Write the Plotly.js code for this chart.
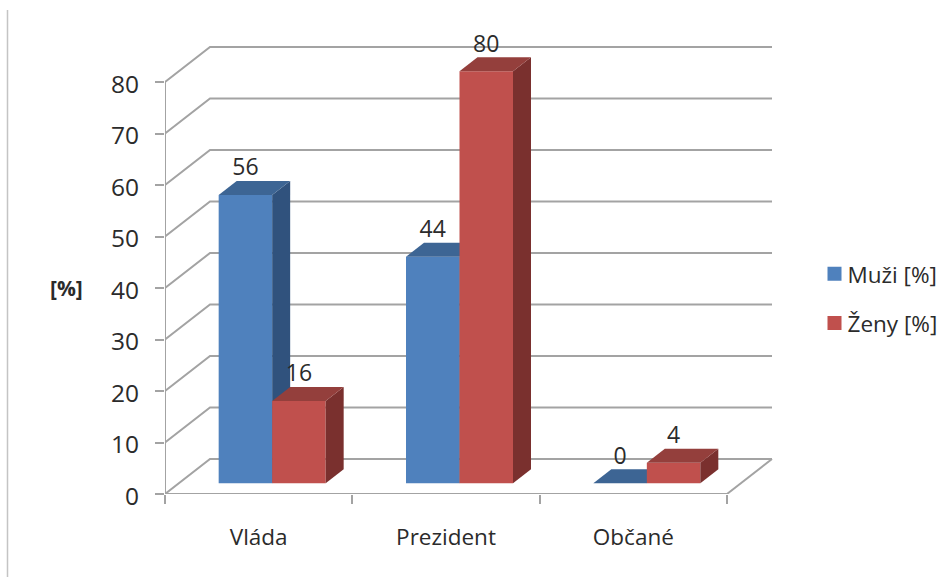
<!DOCTYPE html>
<html><head><meta charset="utf-8">
<script src="https://cdn.plot.ly/plotly-3.0.1.min.js"></script>
<style>html,body{margin:0;padding:0;background:#fff}</style></head>
<body><div id="chart" style="width:940px;height:577px"></div>
<script>
const categories = ['Vláda','Prezident','Občané'];
const muzi = [56,44,0];
const zeny = [16,80,4];
const yTicks = [0,10,20,30,40,50,60,70,80];
const FONT = '"Open Sans", sans-serif';
const TXT = '#2b2b2b', GRID = '#a3a3a3';
// depth parameters (data units)
const pxX = 187.33, pxY = 5.15;
const wallDX = 45/pxX, wallDY = 35/pxY;
const barDX = 18/pxX, barDY = 14/pxY, base = 2.07, barW = 0.2856, off1 = 0.2865, off2 = 0.5721;
const xs = [0,1,2];

function line(pts, color, w){
  return {type:'path', xref:'x', yref:'y', layer:'below',
    path:'M'+pts.map(p=>p.join(',')).join('L'), line:{color:color||GRID,width:w||2}};
}
const shapes = [];
yTicks.forEach(v=>{ shapes.push(line([[0,v],[wallDX,v+wallDY],[3+wallDX,v+wallDY]])); });
shapes.push(line([[3,0],[3+wallDX,wallDY]]));
shapes.push(line([[0,0],[0,80]]));
shapes.push(line([[0,0],[3,0]]));
shapes.push({type:'line',xref:'paper',yref:'paper',x0:-0.252,x1:-0.252,y0:-0.175,y1:1.021,layer:'below',line:{color:'#c4c4c4',width:1.5}});

function faces(vals, off, xa, ya, cTop, cSide){
  const out=[];
  vals.forEach((v,i)=>{
    const x0=xs[i]+off, x1=x0+barW, yb=base, yt=base+v;
    out.push({type:'scatter',mode:'none',fill:'toself',fillcolor:cSide,xaxis:xa,yaxis:ya,showlegend:false,hoverinfo:'skip',
      x:[x1,x1+barDX,x1+barDX,x1,x1],y:[yb,yb+barDY,yt+barDY,yt,yb]});
    out.push({type:'scatter',mode:'none',fill:'toself',fillcolor:cTop,xaxis:xa,yaxis:ya,showlegend:false,hoverinfo:'skip',
      x:[x0,x1,x1+barDX,x0+barDX,x0],y:[yt,yt,yt+barDY,yt+barDY,yt]});
  });
  return out;
}
const labelX=[], labelY=[], labelT=[];
[[muzi,off1],[zeny,off2]].forEach(([vals,off])=>vals.forEach((v,i)=>{
  labelX.push(xs[i]+off+barW/2); labelY.push(base+v+barDY+2.25); labelT.push(String(v));
}));
const data = [
  {type:'bar',name:'Muži [%]',x:xs,y:muzi,base:base,width:barW,offset:off1,marker:{color:'#4f81bd'},legendgroup:'a',xaxis:'x',yaxis:'y'},
  ...faces(muzi,off1,'x','y','#3d6594','#30527d'),
  {type:'bar',name:'Ženy [%]',x:xs,y:zeny,base:base,width:barW,offset:off2,marker:{color:'#c0504d'},legendgroup:'b',xaxis:'x2',yaxis:'y2'},
  ...faces(zeny,off2,'x2','y2','#943f3c','#7a302e'),
  {type:'scatter',mode:'text',x:labelX,y:labelY,text:labelT,textposition:'middle center',cliponaxis:false,
   textfont:{family:FONT,size:23,color:TXT},xaxis:'x2',yaxis:'y2',showlegend:false,hoverinfo:'skip'}
];
const xr=[0,(790-165)/pxX], yr=[0,(494-20)/pxY];
const layout = {
  width:940,height:577,paper_bgcolor:'#fff',plot_bgcolor:'rgba(0,0,0,0)',showlegend:true,
  margin:{l:165,r:150,t:20,b:83,autoexpand:false},
  font:{family:FONT,color:TXT},
  xaxis:{range:xr,showgrid:false,zeroline:false,showline:false,tickmode:'array',tickvals:[0.5,1.5,2.5],ticktext:categories,
    ticks:'outside',ticklen:0,ticklabelstandoff:23,tickfont:{family:FONT,size:22.5,color:TXT},
    minor:{tickmode:'array',tickvals:[0,1,2,3],ticks:'outside',ticklen:9,tickwidth:2,tickcolor:GRID,showgrid:false}},
  yaxis:{range:yr,showgrid:false,zeroline:false,showline:false,tickmode:'array',tickvals:yTicks,
    ticks:'outside',ticklen:9,tickwidth:2,tickcolor:GRID,ticklabelstandoff:11,ticklabelshift:2,tickfont:{family:FONT,size:24.5,color:TXT}},
  xaxis2:{range:xr,overlaying:'x',visible:false},
  yaxis2:{range:yr,overlaying:'y',visible:false},
  shapes:shapes,
  legend:{x:1.028,y:0.509,xanchor:'left',yanchor:'top',tracegroupgap:17,font:{family:FONT,size:22.5,color:TXT},bgcolor:'rgba(0,0,0,0)',itemclick:false,itemdoubleclick:false},
  annotations:[{xref:'paper',yref:'paper',x:-0.157,xanchor:'center',y:0.435,text:'<b>[%]</b>',showarrow:false,font:{family:FONT,size:21,color:TXT}}]
};
Plotly.newPlot('chart',data,layout,{displayModeBar:false,responsive:false}).then(()=>{
  document.querySelectorAll('.legend .legendsymbols').forEach(g=>g.setAttribute('transform','translate(7,0)'));
  document.querySelectorAll('.legend .legendsymbols path').forEach(p=>p.setAttribute('d','M7,7H-7V-7H7Z'));
});
</script></body></html>
